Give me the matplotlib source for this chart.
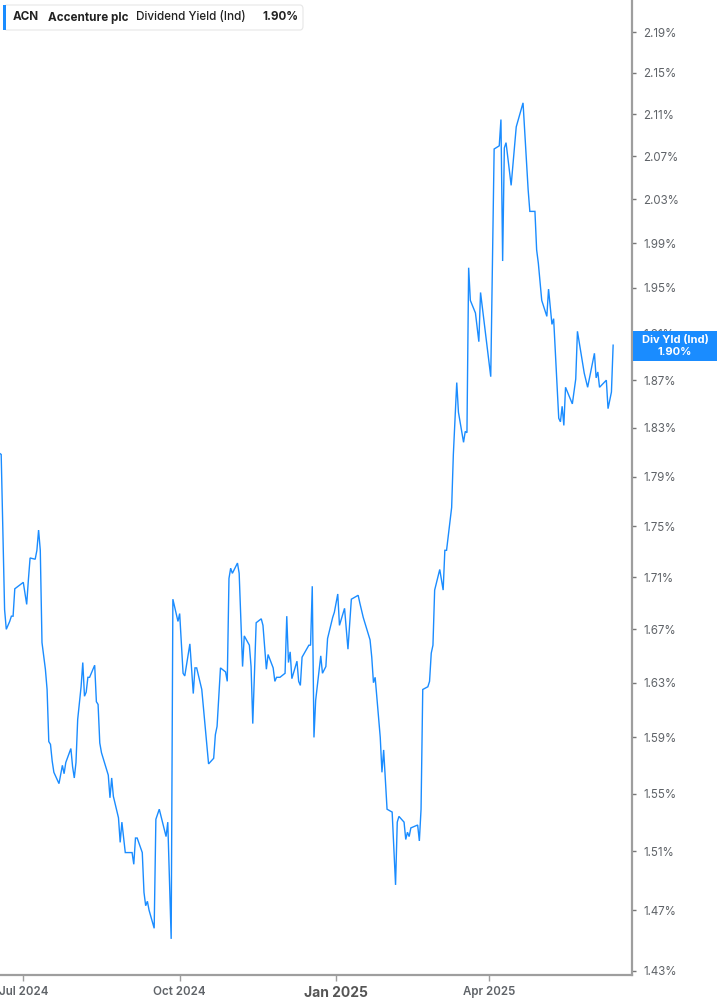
import numpy as np
import pandas as pd
import matplotlib
matplotlib.use('Agg')
import matplotlib.pyplot as plt
import matplotlib.dates as mdates
from matplotlib.patches import FancyBboxPatch, Rectangle
from matplotlib.ticker import FixedLocator, FuncFormatter, NullLocator

plt.rcParams['font.family'] = ['Inter', 'DejaVu Sans']

# ACN dividend yield (indicated), percent
dates = [
    '2024-06-17', '2024-06-18', '2024-06-20', '2024-06-21', '2024-06-23', '2024-06-24',
    '2024-06-25', '2024-06-26', '2024-06-27', '2024-06-28', '2024-07-01', '2024-07-03',
    '2024-07-04', '2024-07-05', '2024-07-08', '2024-07-09', '2024-07-10', '2024-07-11',
    '2024-07-12', '2024-07-14', '2024-07-15', '2024-07-16', '2024-07-17', '2024-07-18',
    '2024-07-19', '2024-07-22', '2024-07-24', '2024-07-25', '2024-07-26', '2024-07-29',
    '2024-07-30', '2024-07-31', '2024-08-01', '2024-08-02', '2024-08-04', '2024-08-05',
    '2024-08-06', '2024-08-07', '2024-08-08', '2024-08-09', '2024-08-12', '2024-08-13',
    '2024-08-14', '2024-08-15', '2024-08-16', '2024-08-20', '2024-08-21', '2024-08-22',
    '2024-08-23', '2024-08-26', '2024-08-27', '2024-08-28', '2024-08-30', '2024-09-03',
    '2024-09-04', '2024-09-05', '2024-09-06', '2024-09-09', '2024-09-10', '2024-09-11',
    '2024-09-12', '2024-09-13', '2024-09-16', '2024-09-17', '2024-09-19', '2024-09-23',
    '2024-09-24', '2024-09-26', '2024-09-27', '2024-09-30', '2024-10-01', '2024-10-03',
    '2024-10-04', '2024-10-07', '2024-10-09', '2024-10-10', '2024-10-11', '2024-10-14',
    '2024-10-18', '2024-10-21', '2024-10-22', '2024-10-23', '2024-10-25', '2024-10-28',
    '2024-10-29', '2024-10-30', '2024-10-31', '2024-11-01', '2024-11-04', '2024-11-05',
    '2024-11-07', '2024-11-08', '2024-11-11', '2024-11-12', '2024-11-13', '2024-11-15',
    '2024-11-18', '2024-11-19', '2024-11-21', '2024-11-22', '2024-11-25', '2024-11-26',
    '2024-11-27', '2024-11-29', '2024-12-02', '2024-12-03', '2024-12-04', '2024-12-05',
    '2024-12-06', '2024-12-09', '2024-12-10', '2024-12-11', '2024-12-12', '2024-12-16',
    '2024-12-17', '2024-12-18', '2024-12-19', '2024-12-20', '2024-12-23', '2024-12-24',
    '2024-12-26', '2024-12-27', '2024-12-30', '2024-12-31', '2025-01-02', '2025-01-03',
    '2025-01-06', '2025-01-08', '2025-01-10', '2025-01-14', '2025-01-15', '2025-01-17',
    '2025-01-21', '2025-01-22', '2025-01-23', '2025-01-24', '2025-01-27', '2025-01-28',
    '2025-01-29', '2025-01-31', '2025-02-03', '2025-02-05', '2025-02-06', '2025-02-07',
    '2025-02-10', '2025-02-11', '2025-02-12', '2025-02-13', '2025-02-14', '2025-02-18',
    '2025-02-19', '2025-02-20', '2025-02-21', '2025-02-24', '2025-02-25', '2025-02-26',
    '2025-02-27', '2025-02-28', '2025-03-03', '2025-03-05', '2025-03-06', '2025-03-07',
    '2025-03-10', '2025-03-11', '2025-03-13', '2025-03-14', '2025-03-17', '2025-03-18',
    '2025-03-19', '2025-03-20', '2025-03-21', '2025-03-24', '2025-03-26', '2025-03-27',
    '2025-04-02', '2025-04-04', '2025-04-07', '2025-04-08', '2025-04-09', '2025-04-10',
    '2025-04-11', '2025-04-14', '2025-04-17', '2025-04-21', '2025-04-24', '2025-04-25',
    '2025-04-28', '2025-04-29', '2025-04-30', '2025-05-02', '2025-05-05', '2025-05-06',
    '2025-05-08', '2025-05-09', '2025-05-12', '2025-05-13', '2025-05-14', '2025-05-15',
    '2025-05-16', '2025-05-20', '2025-05-22', '2025-05-23', '2025-05-27', '2025-05-29',
    '2025-06-02', '2025-06-03', '2025-06-04', '2025-06-05', '2025-06-09', '2025-06-10',
    '2025-06-12', '2025-06-13',
]
yields = [
    1.809, 1.808, 1.685, 1.670, 1.676, 1.680,
    1.680, 1.701, 1.702, 1.703, 1.706, 1.689,
    1.708, 1.725, 1.724, 1.731, 1.747, 1.731,
    1.660, 1.640, 1.625, 1.587, 1.585, 1.573,
    1.565, 1.557, 1.570, 1.564, 1.572, 1.582,
    1.569, 1.561, 1.572, 1.603, 1.627, 1.645,
    1.620, 1.623, 1.634, 1.634, 1.643, 1.616,
    1.614, 1.586, 1.579, 1.563, 1.547, 1.561,
    1.548, 1.533, 1.516, 1.530, 1.509, 1.509,
    1.501, 1.519, 1.519, 1.509, 1.482, 1.473,
    1.476, 1.470, 1.458, 1.532, 1.539, 1.520,
    1.530, 1.451, 1.693, 1.676, 1.682, 1.637,
    1.635, 1.659, 1.622, 1.641, 1.641, 1.625,
    1.571, 1.575, 1.592, 1.598, 1.641, 1.638,
    1.631, 1.709, 1.717, 1.713, 1.721, 1.713,
    1.642, 1.665, 1.658, 1.642, 1.600, 1.675,
    1.678, 1.673, 1.640, 1.651, 1.641, 1.631,
    1.634, 1.634, 1.637, 1.680, 1.645, 1.653,
    1.633, 1.646, 1.631, 1.628, 1.649, 1.658,
    1.658, 1.703, 1.590, 1.617, 1.650, 1.637,
    1.642, 1.663, 1.679, 1.683, 1.697, 1.673,
    1.686, 1.655, 1.693, 1.696, 1.690, 1.679,
    1.662, 1.649, 1.630, 1.634, 1.590, 1.565,
    1.581, 1.539, 1.537, 1.487, 1.530, 1.534,
    1.530, 1.518, 1.523, 1.520, 1.526, 1.528,
    1.517, 1.539, 1.625, 1.627, 1.631, 1.652,
    1.658, 1.700, 1.716, 1.700, 1.731, 1.731,
    1.765, 1.808, 1.868, 1.843, 1.818, 1.827,
    1.826, 1.968, 1.939, 1.928, 1.903, 1.946,
    1.873, 2.077, 2.080, 2.105, 1.974, 2.078,
    2.083, 2.043, 2.098, 2.121, 2.039, 2.019,
    2.019, 1.984, 1.972, 1.939, 1.925, 1.949,
    1.918, 1.923, 1.838, 1.835, 1.848, 1.832,
    1.864, 1.850, 1.871, 1.912, 1.876, 1.864,
    1.893, 1.872, 1.877, 1.864, 1.870, 1.846,
    1.860, 1.900,
]
ytick_vals = [1.43, 1.47, 1.51, 1.55, 1.59, 1.63, 1.67, 1.71, 1.75, 1.79,
              1.83, 1.87, 1.91, 1.95, 1.99, 2.03, 2.07, 2.11, 2.15, 2.19]
xtick_dates = ['2024-07-01', '2024-10-01', '2025-01-01', '2025-04-01']
xtick_labels = ['Jul 2024', 'Oct 2024', 'Jan 2025', 'Apr 2025']

ticker = 'ACN'
company = 'Accenture plc'
metric = 'Dividend Yield (Ind)'
last_label = 'Div Yld (Ind)'

W, H = 717, 1005
blue = '#1a8cff'
grey = '#9e9e9e'
txt = '#5f6368'

fig = plt.figure(figsize=(W / 100, H / 100), dpi=100)
ax = fig.add_axes([0, 1 - 975 / H, 632 / W, 975 / H])

x = pd.to_datetime(dates)
ax.plot(x, yields, color=blue, lw=1.0, solid_joinstyle='miter')

ax.set_yscale('log')
ax.set_ylim(1.4274, 2.2224)
jul1 = mdates.date2num(pd.Timestamp('2024-07-01'))
ax.set_xlim(jul1 - 13.7, jul1 + 358.1)

for s in ['top', 'left']:
    ax.spines[s].set_visible(False)
for s in ['bottom', 'right']:
    ax.spines[s].set_color(grey)
    ax.spines[s].set_linewidth(1.6)

ax.yaxis.tick_right()
ax.yaxis.set_major_locator(FixedLocator(ytick_vals))
ax.yaxis.set_minor_locator(NullLocator())
ax.yaxis.set_major_formatter(FuncFormatter(lambda v, p: f'{v:.2f}%'))
ax.tick_params(axis='y', which='major', length=3, width=1, color='#777777',
               labelsize=8.3, labelcolor=txt, pad=5)

ax.set_xticks(mdates.date2num(pd.to_datetime(xtick_dates)))
ax.set_xticklabels(xtick_labels)
ax.tick_params(axis='x', length=4, width=1, color=grey, labelsize=8.3,
               labelcolor=txt, pad=4)
for lbl in ax.get_xticklabels():
    if lbl.get_text().startswith('Jan'):
        lbl.set_fontweight('bold')
        lbl.set_fontsize(10)
        lbl.set_color('#555555')
    else:
        lbl.set_fontweight('semibold')

# legend box top-left
def fx(px):
    return px / W

def fy(py):
    return 1 - py / H

fig.patches.append(FancyBboxPatch((fx(4), fy(30)), fx(299), 25 / H,
                                  boxstyle='round,pad=0,rounding_size=0.004',
                                  transform=fig.transFigure, facecolor='white',
                                  edgecolor='#e6e6e6', lw=0.8, zorder=5))
fig.patches.append(Rectangle((fx(3), fy(30)), fx(3), 25 / H, transform=fig.transFigure,
                             facecolor=blue, edgecolor='none', zorder=6))
ty = fy(17.5)
fig.text(fx(13), ty, ticker, fontsize=8.4, fontweight='bold', color='#222222',
         va='center', zorder=7)
fig.text(fx(48), ty, company, fontsize=8.4, fontweight='bold', color='#222222',
         va='center', zorder=7)
fig.text(fx(136), ty, metric, fontsize=8.4, fontweight='medium', color='#222222',
         va='center', zorder=7)
fig.text(fx(262), ty, f'{yields[-1]:.2f}%', fontsize=8.4, fontweight='bold',
         color='#222222', va='center', zorder=7)

# last value tag on the right axis (covers the 1.91% tick label, as in the source)
fig.patches.append(Rectangle((fx(633), fy(361)), fx(84), 30 / H, transform=fig.transFigure,
                             facecolor=blue, edgecolor='none', zorder=8))
fig.text(fx(675), fy(340), last_label, fontsize=8, fontweight='bold', color='white',
         ha='center', va='center', zorder=9)
fig.text(fx(675), fy(352), f'{yields[-1]:.2f}%', fontsize=8, fontweight='bold',
         color='white', ha='center', va='center', zorder=9)

fig.savefig('out.png', dpi=100)
